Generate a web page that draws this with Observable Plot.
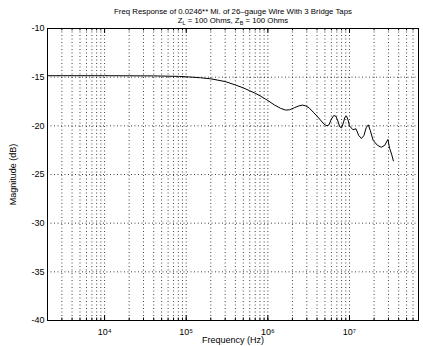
<!DOCTYPE html>
<html><head><meta charset="utf-8">
<script src="https://cdn.jsdelivr.net/npm/d3@7"></script>
<script src="https://cdn.jsdelivr.net/npm/@observablehq/plot@0.6"></script>
<style>body{margin:0;background:#fff} svg{display:block}</style>
</head><body><div id="chart"></div>
<script>
const freqHz = [2000,3000,5000,1e4,2e4,4e4,6e4,8e4,1e5,1.5e5,2e5,3e5,4e5,5e5,6e5,7e5,8.2e5,1e6,1.2e6,1.43e6,1.65e6,1.85e6,2.1e6,2.4e6,2.65e6,2.9e6,3.2e6,3.6e6,4.0e6,4.4e6,4.9e6,5.3e6,5.6e6,6.0e6,6.4e6,6.8e6,7.2e6,7.6e6,8.0e6,8.4e6,8.8e6,9.2e6,9.6e6,1.0e7,1.1e7,1.2e7,1.3e7,1.4e7,1.5e7,1.6e7,1.7e7,1.8e7,1.95e7,2.2e7,2.45e7,2.7e7,2.95e7,3.1e7,3.3e7,3.45e7];
const magDb = [-14.85,-14.85,-14.85,-14.85,-14.86,-14.87,-14.9,-14.92,-14.96,-15.06,-15.17,-15.45,-15.8,-16.1,-16.4,-16.65,-16.96,-17.4,-17.85,-18.2,-18.38,-18.35,-18.15,-17.95,-17.87,-17.95,-18.15,-18.6,-19.0,-19.4,-19.85,-20.0,-19.9,-19.3,-18.95,-19.0,-19.5,-20.1,-20.2,-19.7,-19.1,-19.0,-19.4,-20.0,-20.4,-20.3,-21.0,-21.3,-21.0,-20.2,-19.9,-20.5,-21.5,-22.0,-22.2,-22.0,-21.4,-22.3,-23.0,-23.6];
const xTicks = [1e4, 1e5, 1e6, 1e7];
const xTickLabels = ["10\u2074", "10\u2075", "10\u2076", "10\u2077"];
const yTicks = [-40, -35, -30, -25, -20, -15, -10];
const yTickLabels = ["-40", "-35", "-30", "-25", "-20", "-15", "-10"];
const titleLine1 = "Freq Response of 0.0246** Mi. of 26\u2013gauge Wire With 3 Bridge Taps";
const titleLine2 = "Z_L = 100 Ohms, Z_B = 100 Ohms";
const xLabel = "Frequency (Hz)";
const yLabel = "Magnitude (dB)";
const xDomain = [2000, 7e7];
const yDomain = [-40, -10];

const data = freqHz.map((f, i) => ({f, m: magDb[i]}));
const minor = d3.scaleLog().domain(xDomain).ticks();
const dot = {stroke: "#000", strokeOpacity: 0.75, strokeDasharray: "1,2.5", strokeWidth: 1};

const chart = Plot.plot({
  width: 423, height: 346,
  marginLeft: 47, marginRight: 5, marginTop: 28, marginBottom: 26,
  style: {fontFamily: "'Liberation Sans', Arial, sans-serif", fontSize: "9px", background: "#fff", color: "#000"},
  x: {type: "log", domain: xDomain, label: null},
  y: {domain: yDomain, label: null},
  marks: [
    Plot.gridX(minor, dot),
    Plot.gridY(yTicks, dot),
    Plot.ruleX(minor, {y1: -40, y2: -39.75, stroke: "#000"}),
    Plot.ruleX(minor, {y1: -10, y2: -10.25, stroke: "#000"}),
    Plot.ruleX(xTicks, {y1: -40, y2: -39.5, stroke: "#000"}),
    Plot.ruleX(xTicks, {y1: -10, y2: -10.5, stroke: "#000"}),
    Plot.line(data, {x: "f", y: "m", stroke: "#000", strokeWidth: 1}),
    Plot.frame({stroke: "#000"}),
    Plot.axisX(xTicks, {tickSize: 0, tickPadding: 8, tickFormat: d => xTickLabels[xTicks.indexOf(d)],
      label: xLabel, labelAnchor: "center", labelArrow: "none", labelOffset: 22, fontSize: 9}),
    Plot.axisY(yTicks, {tickSize: 0, tickPadding: 3, tickFormat: d => yTickLabels[yTicks.indexOf(d)],
      label: yLabel, labelAnchor: "center", labelArrow: "none", labelOffset: 38, fontSize: 9}),
    Plot.text([titleLine1], {frameAnchor: "top", dy: -20, fontSize: 7.8}),
    Plot.text([titleLine2], {frameAnchor: "top", dy: -11, fontSize: 7.8, className: "sub-title"})
  ]
});
document.getElementById("chart").appendChild(chart);

// subscripts in second title line
d3.select(chart).selectAll("g.sub-title text").each(function() {
  const t = d3.select(this);
  t.text(null);
  const parts = [["Z", 0], ["L", 1], [" = 100 Ohms, Z", 0], ["B", 1], [" = 100 Ohms", 0]];
  for (const [s, sub] of parts) {
    const ts = t.append("tspan").text(s);
    if (sub) ts.attr("font-size", 5.5).attr("baseline-shift", "-25%");
  }
});
</script>
</body></html>
